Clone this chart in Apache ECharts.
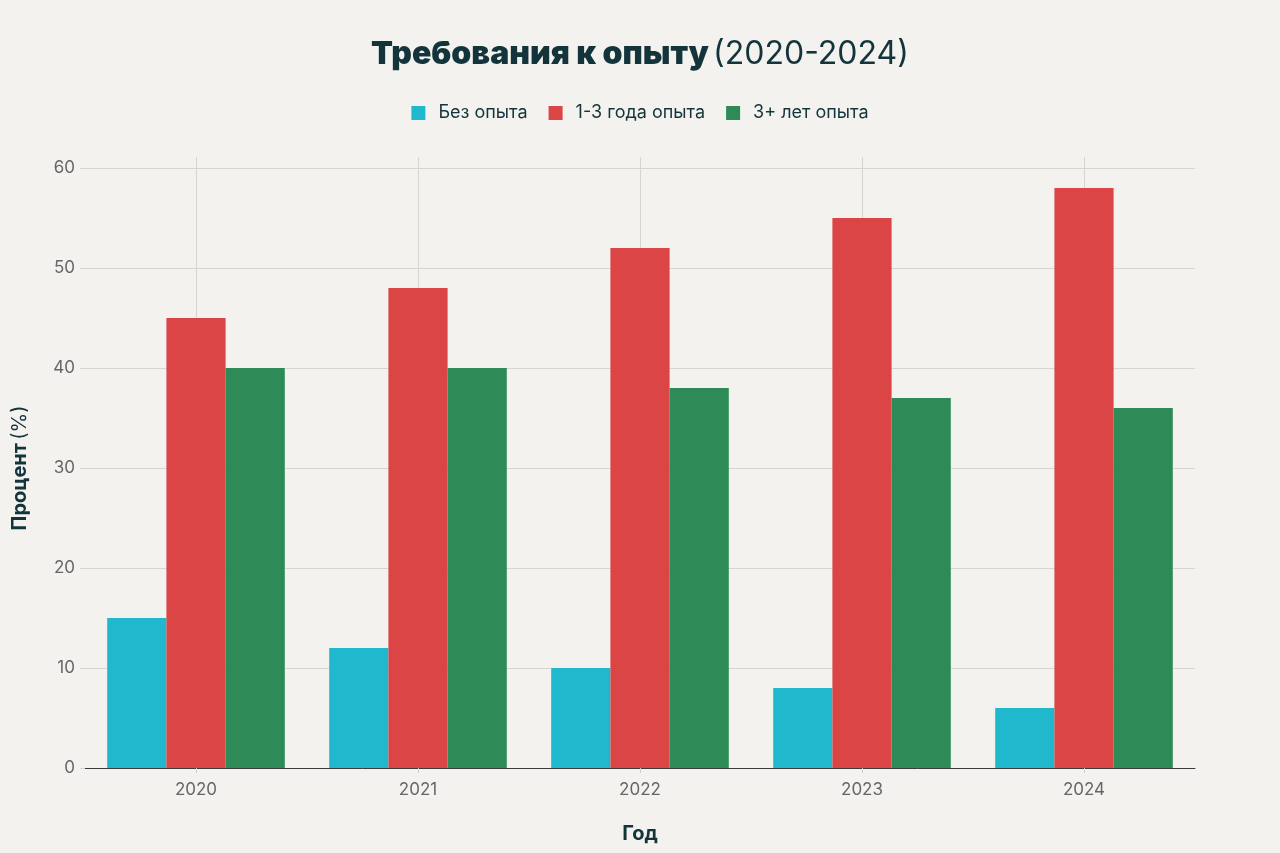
<!DOCTYPE html>
<html><head><meta charset="utf-8">
<script src="https://cdn.jsdelivr.net/npm/echarts@6/dist/echarts.min.js"></script>
<style>html,body{margin:0;padding:0;background:#F3F2EE;}#c{width:1280px;height:853px;}</style>
</head><body><div id="c"></div>
<script>
const categories = ['2020','2021','2022','2023','2024'];
const noExp = [15, 12, 10, 8, 6];
const exp13 = [45, 48, 52, 55, 58];
const exp3plus = [40, 40, 38, 37, 36];
const yTicks = {min: 0, max: 60, interval: 10};

// half-category points (edge, centre, edge, ...) used only to place vertical grid lines at category centres
const halfSlots = ['e0'];
categories.forEach((c, i) => { halfSlots.push(c); halfSlots.push('e' + (i + 1)); });

const font = 'Inter, "Open Sans", sans-serif';
const chart = echarts.init(document.getElementById('c'));
chart.setOption({
  backgroundColor: '#F3F2EE',
  textStyle: {fontFamily: font},
  title: {
    text: '{b|Требования к опыту} {n|(2020-2024)}',
    left: 'center', top: 33,
    textStyle: {rich: {
      b: {fontFamily: font, fontSize: 32, fontWeight: 900, color: '#13343B'},
      n: {fontFamily: font, fontSize: 32, fontWeight: 400, color: '#13343B'}
    }}
  },
  legend: {
    top: 99, left: 'center', itemWidth: 14, itemHeight: 14, itemGap: 21,
    icon: 'rect',
    textStyle: {fontFamily: font, fontSize: 18, color: '#13343B', padding: [0, 0, 0, 8]},
    data: ['Без опыта', '1-3 года опыта', '3+ лет опыта']
  },
  grid: [
    {left: 85, right: 85, top: 168, bottom: 85, containLabel: false},
    {left: 85, right: 85, top: 157, bottom: 85, containLabel: false}
  ],
  xAxis: [
    {type: 'category', data: categories, gridIndex: 0,
     axisLine: {lineStyle: {color: '#3a3a3a', width: 1}},
     axisTick: {show: true, alignWithLabel: true, length: 5, lineStyle: {color: '#cfcfcf'}},
     axisLabel: {fontFamily: font, fontSize: 17, color: '#666', margin: 13},
     splitLine: {show: false},
     name: 'Год', nameLocation: 'middle', nameGap: 56,
     nameTextStyle: {fontFamily: font, fontSize: 20, fontWeight: 'bold', color: '#13343B'}
    },
    {type: 'category', data: halfSlots, gridIndex: 1, boundaryGap: false,
     axisLine: {show: false}, axisTick: {show: false}, axisLabel: {show: false},
     splitLine: {show: true, interval: function (i) { return i % 2 === 1; },
                 lineStyle: {color: '#d6d5d1', width: 1}}
    }
  ],
  yAxis: [
    {type: 'value', gridIndex: 0, min: yTicks.min, max: yTicks.max, interval: yTicks.interval,
     axisLine: {show: false},
     axisTick: {show: true, length: 5, lineStyle: {color: '#d6d5d1'}},
     axisLabel: {fontFamily: font, fontSize: 17, color: '#666', margin: 10},
     splitLine: {lineStyle: {color: '#d6d5d1', width: 1}},
     name: '{b|Процент} {n|(%)}', nameLocation: 'middle', nameGap: 55, nameRotate: 90,
     nameTextStyle: {rich: {
       b: {fontFamily: font, fontSize: 20, fontWeight: 'bold', color: '#13343B'},
       n: {fontFamily: font, fontSize: 20, fontWeight: 400, color: '#13343B'}
     }}
    },
    {type: 'value', gridIndex: 1, min: 0, max: 1, show: false, splitLine: {show: false}}
  ],
  series: [
    {name: 'Без опыта', type: 'bar', data: noExp, xAxisIndex: 0, yAxisIndex: 0,
     itemStyle: {color: '#1FB8CD'}, barGap: '0%', barCategoryGap: '20%', z: 3},
    {name: '1-3 года опыта', type: 'bar', data: exp13, xAxisIndex: 0, yAxisIndex: 0,
     itemStyle: {color: '#DB4545'}, barGap: '0%', barCategoryGap: '20%', z: 3},
    {name: '3+ лет опыта', type: 'bar', data: exp3plus, xAxisIndex: 0, yAxisIndex: 0,
     itemStyle: {color: '#2E8B57'}, barGap: '0%', barCategoryGap: '20%', z: 3}
  ]
});
</script></body></html>
